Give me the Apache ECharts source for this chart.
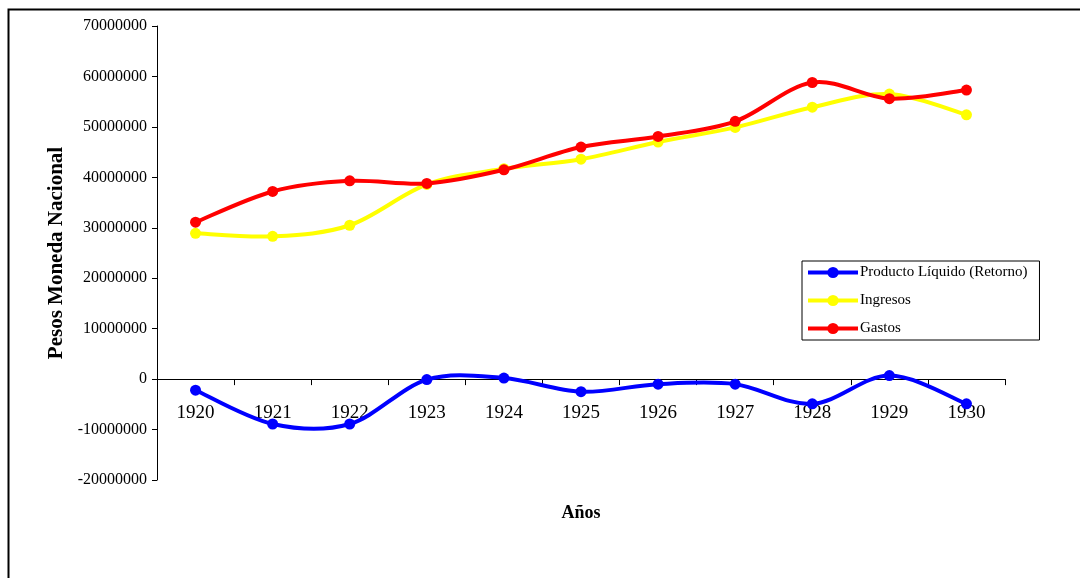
<!DOCTYPE html>
<html>
<head>
<meta charset="utf-8">
<script src="https://cdn.jsdelivr.net/npm/echarts@6/dist/echarts.min.js"></script>
<style>
  html, body { margin: 0; padding: 0; background: #fff; }
  #chart { width: 1080px; height: 578px; }
</style>
</head>
<body>
<div id="chart"></div>
<script>
// Yearly figures in pesos moneda nacional
const years = ['1920', '1921', '1922', '1923', '1924', '1925', '1926', '1927', '1928', '1929', '1930'];
const producto = [-2200000, -8900000, -8900000, -100000, 200000, -2500000, -1000000, -1000000, -4900000, 700000, -4900000];
const ingresos = [28900000, 28300000, 30500000, 38600000, 41700000, 43600000, 47000000, 49900000, 53900000, 56500000, 52400000];
const gastos = [31100000, 37200000, 39300000, 38800000, 41500000, 46000000, 48100000, 51100000, 58800000, 55600000, 57300000];

const seriesNames = ['Producto Líquido (Retorno)', 'Ingresos', 'Gastos'];
const seriesColors = ['#0000ff', '#ffff00', '#ff0000'];
const seriesData = [producto, ingresos, gastos];

const FONT = '"Liberation Serif", "Times New Roman", serif';
const Y_MIN = -20000000, Y_MAX = 70000000, Y_STEP = 10000000;
const GRID = { left: 157, right: 75, top: 26, bottom: 98 };
const CHART_H = 578;

// Pixel distance from the grid bottom up to the zero line, so the category axis sits on 0.
const plotH = CHART_H - GRID.top - GRID.bottom;
const zeroOffset = plotH * (0 - Y_MIN) / (Y_MAX - Y_MIN);

// Smooth curve segment between point i and i+1 (cardinal spline as cubic Bezier),
// with every point placed through the chart's own coordinate system.
function curveSeries(values, color, z) {
  const n = values.length;
  return {
    type: 'custom',
    coordinateSystem: 'cartesian2d',
    data: values.map((v, i) => [i, v]),
    encode: { x: 0, y: 1 },
    silent: true,
    z: z,
    renderItem: function (params, api) {
      const i = params.dataIndex;
      if (i >= n - 1) return null;
      const pt = k => {
        const c = Math.max(0, Math.min(n - 1, k));
        return api.coord([c, values[c]]);
      };
      const p0 = pt(i - 1), p1 = pt(i), p2 = pt(i + 1), p3 = pt(i + 2);
      const t = 1 / 6;
      return {
        type: 'bezierCurve',
        shape: {
          x1: p1[0], y1: p1[1],
          x2: p2[0], y2: p2[1],
          cpx1: p1[0] + (p2[0] - p0[0]) * t, cpy1: p1[1] + (p2[1] - p0[1]) * t,
          cpx2: p2[0] - (p3[0] - p1[0]) * t, cpy2: p2[1] - (p3[1] - p1[1]) * t
        },
        style: { fill: null, stroke: color, lineWidth: 4, lineCap: 'round' }
      };
    }
  };
}

const series = [];
seriesNames.forEach((name, i) => {
  series.push(curveSeries(seriesData[i], seriesColors[i], 2 + i * 2));
  series.push({
    name: name,
    type: 'line',
    data: seriesData[i],
    symbol: 'circle',
    symbolSize: 11,
    showAllSymbol: true,
    lineStyle: { color: seriesColors[i], width: 4, opacity: 0 },
    itemStyle: { color: seriesColors[i] },
    z: 3 + i * 2
  });
});

const chart = echarts.init(document.getElementById('chart'));

chart.setOption({
  backgroundColor: '#ffffff',
  animation: false,
  graphic: [{
    type: 'rect',
    shape: { x: 8.5, y: 9.5, width: 1100, height: 600 },
    style: { fill: 'none', stroke: '#000', lineWidth: 2 },
    silent: true,
    z: -1
  }],
  grid: Object.assign({ containLabel: false, outerBoundsMode: 'none' }, GRID),
  legend: {
    orient: 'vertical',
    left: 802,
    top: 261,
    data: seriesNames,
    itemWidth: 50,
    itemHeight: 14,
    itemGap: 13,
    padding: [4, 12, 4, 4],
    backgroundColor: '#fff',
    borderColor: '#000',
    borderWidth: 1,
    lineStyle: { width: 4, opacity: 1 },
    textStyle: { fontFamily: FONT, fontSize: 15, color: '#000', padding: [0, 0, 0, -3] }
  },
  xAxis: {
    type: 'category',
    data: years,
    boundaryGap: true,
    position: 'bottom',
    offset: -zeroOffset,
    name: 'Años',
    nameLocation: 'middle',
    nameGap: 125,
    nameTextStyle: { fontFamily: FONT, fontSize: 18, fontWeight: 'bold', color: '#000', verticalAlign: 'top' },
    axisLine: { onZero: false, lineStyle: { color: '#000', width: 1 } },
    axisTick: { show: true, interval: 0, length: 6, inside: false, lineStyle: { color: '#000' } },
    axisLabel: { fontFamily: FONT, fontSize: 19, color: '#000', margin: 24, interval: 0 },
    splitLine: { show: false }
  },
  yAxis: {
    type: 'value',
    min: Y_MIN,
    max: Y_MAX,
    interval: Y_STEP,
    name: 'Pesos Moneda Nacional',
    nameLocation: 'middle',
    nameRotate: 90,
    nameGap: 86,
    nameTextStyle: { fontFamily: FONT, fontSize: 21, fontWeight: 'bold', color: '#000' },
    axisLine: { show: true, lineStyle: { color: '#000', width: 1 } },
    axisTick: { show: true, length: 5, lineStyle: { color: '#000' } },
    axisLabel: { fontFamily: FONT, fontSize: 16, color: '#000', margin: 10, formatter: v => String(v) },
    splitLine: { show: false }
  },
  series: series
});
</script>
</body>
</html>
